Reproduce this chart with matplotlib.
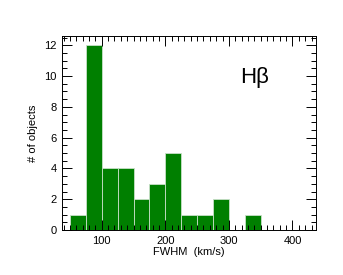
import matplotlib
matplotlib.use('Agg')
import matplotlib.pyplot as plt
from matplotlib.ticker import MultipleLocator

plt.rcParams['font.family'] = ['Liberation Sans', 'DejaVu Sans']

bin_left = [50, 75, 100, 125, 150, 175, 200, 225, 250, 275, 300, 325]
counts = [1, 12, 4, 4, 2, 3, 5, 1, 1, 2, 0, 1]
bin_width = 25

fig = plt.figure(figsize=(3.43, 2.75), dpi=100)
ax = fig.add_axes([62 / 343, 1 - 230 / 275, (316 - 62) / 343, (230 - 36) / 275])

ax.bar(bin_left, counts, width=bin_width, align='edge',
       color='#007f00', edgecolor='#c8e0c8', linewidth=0.6)

ax.set_xlim(37.5, 437)
ax.set_ylim(0, 12.6)
ax.xaxis.set_major_locator(MultipleLocator(100))
ax.xaxis.set_minor_locator(MultipleLocator(10))
ax.yaxis.set_major_locator(MultipleLocator(2))
ax.yaxis.set_minor_locator(MultipleLocator(0.5))
ax.tick_params(which='both', direction='in', top=True, right=True,
               labelsize=8, width=0.7, pad=4)
ax.tick_params(which='major', length=7)
ax.tick_params(which='minor', length=3.5)
ax.tick_params(axis='x', labeltop=False)
ax.tick_params(axis='y', labelright=False)
for s in ax.spines.values():
    s.set_linewidth(0.7)

ax.set_xlabel('FWHM  (km/s)', fontsize=8, labelpad=1)
ax.set_ylabel('# of objects', fontsize=8, labelpad=4)
ax.text(0.70, 0.76, 'H\u03b2', transform=ax.transAxes, fontsize=16,
        va='baseline')

fig.savefig('out.png', dpi=100)
